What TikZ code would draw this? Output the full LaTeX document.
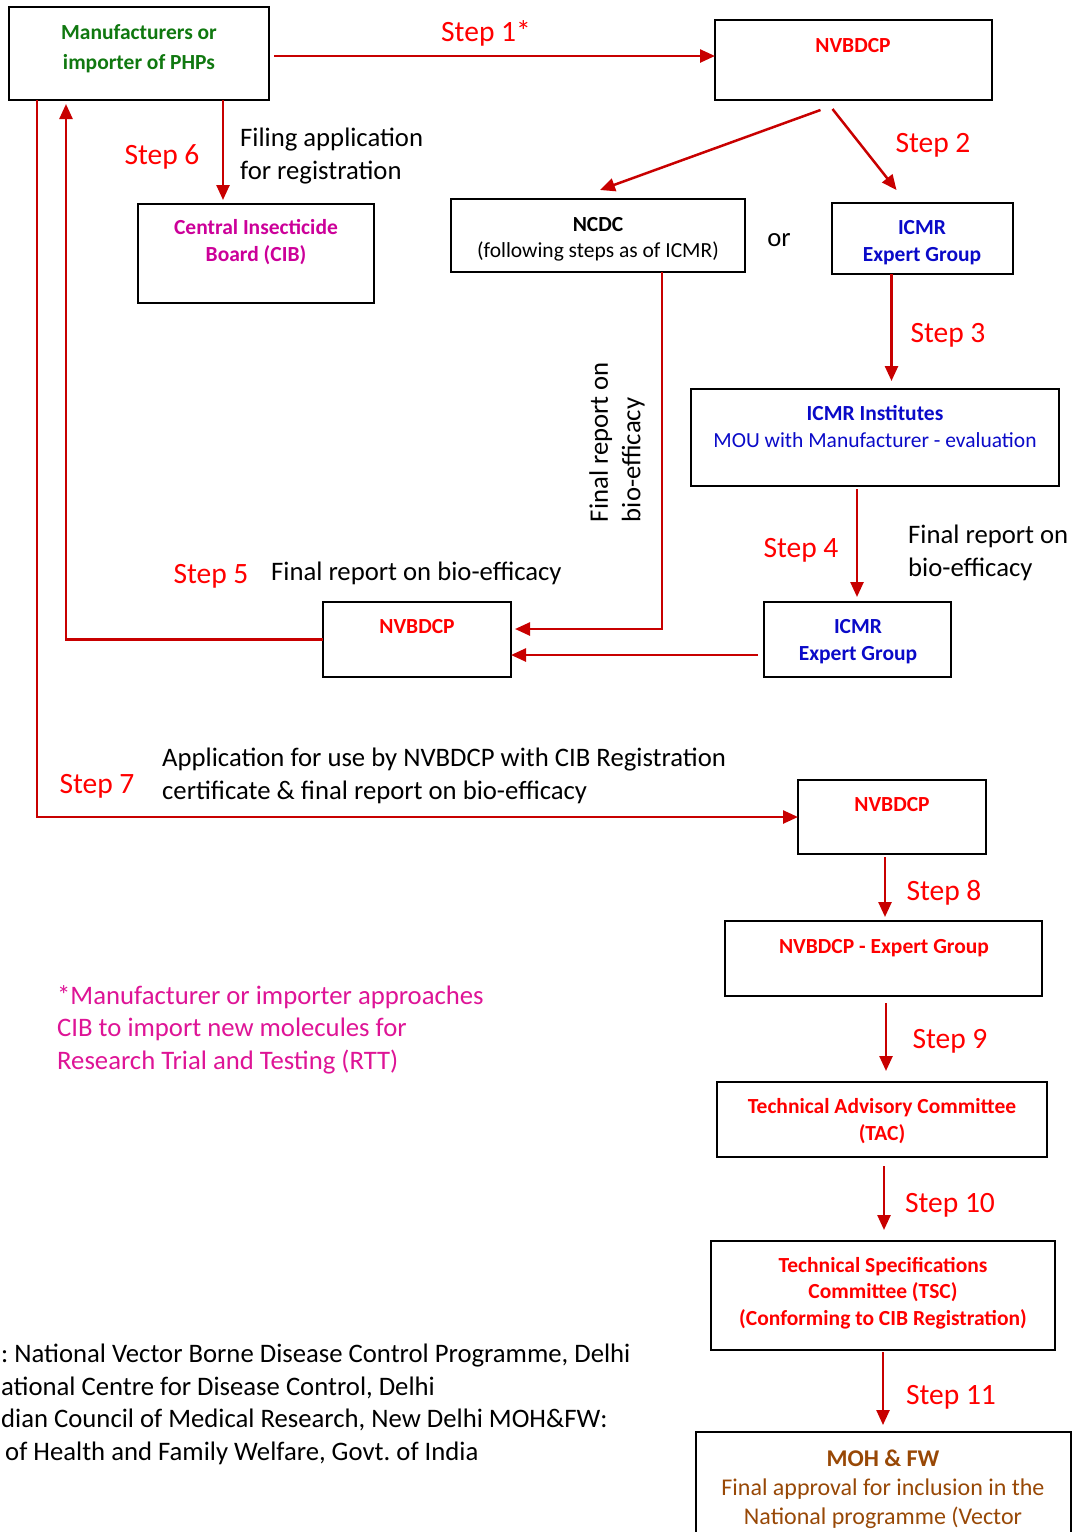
\documentclass[tikz,border=0pt]{standalone}
\usepackage{fontspec}
\setmainfont{Carlito}
\usetikzlibrary{arrows.meta}
\frenchspacing
\definecolor{lred}{RGB}{255,0,0}
\definecolor{cred}{RGB}{200,0,0}
\definecolor{mgreen}{RGB}{16,120,16}
\definecolor{mpink}{RGB}{204,0,153}
\definecolor{npink}{RGB}{222,20,150}
\definecolor{mblue}{RGB}{10,10,200}
\definecolor{mbrown}{RGB}{152,72,6}
\begin{document}
\begin{tikzpicture}[x=1pt,y=-1pt,
  box/.style={draw=black, line width=2pt, inner sep=0pt, outer sep=0pt},
  conn/.style={draw=cred, line width=2.5pt, -{Triangle[length=15pt,width=13pt]}},
  steplbl/.style={text=lred, font=\fontsize{29.5}{34}\selectfont, anchor=base, inner sep=0pt},
  body/.style={font=\fontsize{26.7}{32.5}\selectfont, anchor=base west, inner sep=0pt, align=left},
  btxt/.style={font=\bfseries\fontsize{21.5}{27}\selectfont, anchor=base, inner sep=0pt, align=center},
  rtxt/.style={font=\fontsize{21.5}{27}\selectfont, anchor=base, inner sep=0pt, align=center},
]
\useasboundingbox (0,0) rectangle (1072,1532);

% boxes
\node[box, anchor=north west, minimum width=260pt, minimum height=93pt] (mfr) at (9,7) {};
\node[box, anchor=north west, minimum width=277pt, minimum height=80pt] (nv1) at (715,20) {};
\node[box, anchor=north west, minimum width=236pt, minimum height=99pt] (cib) at (138,204) {};
\node[box, anchor=north west, minimum width=294pt, minimum height=73pt] (ncdc) at (451,199) {};
\node[box, anchor=north west, minimum width=181pt, minimum height=71pt] (icmra) at (832,203) {};
\node[box, anchor=north west, minimum width=368pt, minimum height=97pt] (inst) at (691,389) {};
\node[box, anchor=north west, minimum width=188pt, minimum height=75pt] (nv2) at (323,602) {};
\node[box, anchor=north west, minimum width=187pt, minimum height=75pt] (icmrb) at (764,602) {};
\node[box, anchor=north west, minimum width=188pt, minimum height=74pt] (nv3) at (798,780) {};
\node[box, anchor=north west, minimum width=317pt, minimum height=75pt] (nveg) at (725,921) {};
\node[box, anchor=north west, minimum width=330pt, minimum height=75pt] (tac) at (717,1082) {};
\node[box, anchor=north west, minimum width=344pt, minimum height=109pt] (tsc) at (711,1241) {};
\node[box, anchor=north west, minimum width=375pt, minimum height=150pt] (moh) at (696,1432) {};

% box texts (multi-line nodes: anchor base = last line's baseline)
\node[btxt, text=mgreen, font=\bfseries\fontsize{21.5}{30}\selectfont] (mfrt) at (139,69) {Manufacturers or\\importer of PHPs};
\node[btxt, text=lred] (nv1t) at (853,52) {NVBDCP};
\node[btxt, text=mpink] (cibt) at (256,261) {Central Insecticide\\Board (CIB)};
\node[btxt, text=black] (ncdct) at (598,231) {NCDC};
\node[rtxt, text=black] (ncdcs) at (598,257) {(following steps as of ICMR)};
\node[btxt, text=mblue] (icmrat) at (922,261) {ICMR\\Expert Group};
\node[btxt, text=mblue] (instt) at (875,420) {ICMR Institutes};
\node[rtxt, text=mblue] (insts) at (875,447) {MOU with Manufacturer - evaluation};
\node[btxt, text=lred] (nv2t) at (417,633) {NVBDCP};
\node[btxt, text=mblue] (icmrbt) at (858,660) {ICMR\\Expert Group};
\node[btxt, text=lred] (nv3t) at (892,811) {NVBDCP};
\node[btxt, text=lred] (nvegt) at (884,953) {NVBDCP - Expert Group};
\node[btxt, text=lred] (tact) at (882,1140) {Technical Advisory Committee\\(TAC)};
\node[btxt, text=lred, font=\bfseries\fontsize{21.5}{26.5}\selectfont] (tsct) at (883,1325) {Technical Specifications\\Committee (TSC)\\(Conforming to CIB Registration)};
\node[btxt, text=mbrown, font=\bfseries\fontsize{24}{29}\selectfont] (moht) at (883,1466) {MOH \& FW};
\node[rtxt, text=mbrown, font=\fontsize{24}{28.5}\selectfont] (mohs) at (883,1524) {Final approval for inclusion in the\\National programme (Vector};

% connectors
\draw[conn] (mfr.east) ++(5,2.5) coordinate (s1a) -- (s1a -| nv1.west);
\draw[conn] ([shift={(-33,10)}]nv1.south) -- ([shift={(2,-9)}]ncdc.north);
\draw[conn] ([shift={(-21,9)}]nv1.south) -- ([shift={(-26,-13)}]icmra.north);
\draw[conn] ([xshift=-31pt]icmra.south) coordinate (s3a) -- ([yshift=8pt]s3a |- inst.north);
\draw[conn] ([shift={(-18,3)}]inst.south) coordinate (s4a) -- ([yshift=5pt]s4a |- icmrb.north);
\draw[conn] ([shift={(-6,15.5)}]icmrb.west) coordinate (s5a) -- (s5a -| nv2.east);
\draw[conn] ([xshift=64pt]ncdc.south) |- ([shift={(4,-10.5)}]nv2.east);
\draw[conn] (nv2.west) -| ([shift={(-73,4)}]mfr.south);
\draw[conn] ([xshift=84pt]mfr.south) coordinate (s6a) -- ([yshift=4pt]s6a |- cib.north);
\draw[conn] ([xshift=-102pt]mfr.south) |- (nv3.west);
\draw[conn] ([shift={(-7,3)}]nv3.south) coordinate (s8a) -- ([yshift=4pt]s8a |- nveg.north);
\draw[conn] ([shift={(2.5,7)}]nveg.south) coordinate (s9a) -- ([yshift=11pt]s9a |- tac.north);
\draw[conn] ([shift={(2,9)}]tac.south) coordinate (s10a) -- ([yshift=11pt]s10a |- tsc.north);
\draw[conn] ([shift={(0,2)}]tsc.south) coordinate (s11a) -- ([yshift=7pt]s11a |- moh.north);

% step labels
\node[steplbl] (l1) at (486,41) {Step 1*};
\node[steplbl] (l2) at (933,152) {Step 2};
\node[steplbl] (l3) at (948,342) {Step 3};
\node[steplbl] (l4) at (801,557) {Step 4};
\node[steplbl] (l5) at (211,583) {Step 5};
\node[steplbl] (l6) at (162,164) {Step 6};
\node[steplbl] (l7) at (97,793) {Step 7};
\node[steplbl] (l8) at (944,900) {Step 8};
\node[steplbl] (l9) at (950,1048) {Step 9};
\node[steplbl] (l10) at (950,1212) {Step 10};
\node[steplbl] (l11) at (951,1404) {Step 11};

% other texts
\node[body] (filing) at (240,179) {Filing application\\for registration};
\node[body, anchor=base] (ortxt) at (779,246) {or};
\node[body, anchor=center, rotate=90] (rot) at (617,442) {Final report on\\bio-efficacy};
\node[body] (fr4) at (908,576) {Final report on\\bio-efficacy};
\node[body] (fr5) at (271,580) {Final report on bio-efficacy};
\node[body] (app) at (162,799) {Application for use by NVBDCP with CIB Registration\\certificate \& final report on bio-efficacy};
\node[body, text=npink] (note) at (57,1069) {*Manufacturer or importer approaches\\CIB to import new molecules for\\Research Trial and Testing (RTT)};
\node[body] (abbr) at (1,1460) {: National Vector Borne Disease Control Programme, Delhi\\ational Centre for Disease Control, Delhi\\dian Council of Medical Research, New Delhi MOH\&FW:\\\hspace*{4pt}of Health and Family Welfare, Govt. of India};
\end{tikzpicture}
\end{document}
